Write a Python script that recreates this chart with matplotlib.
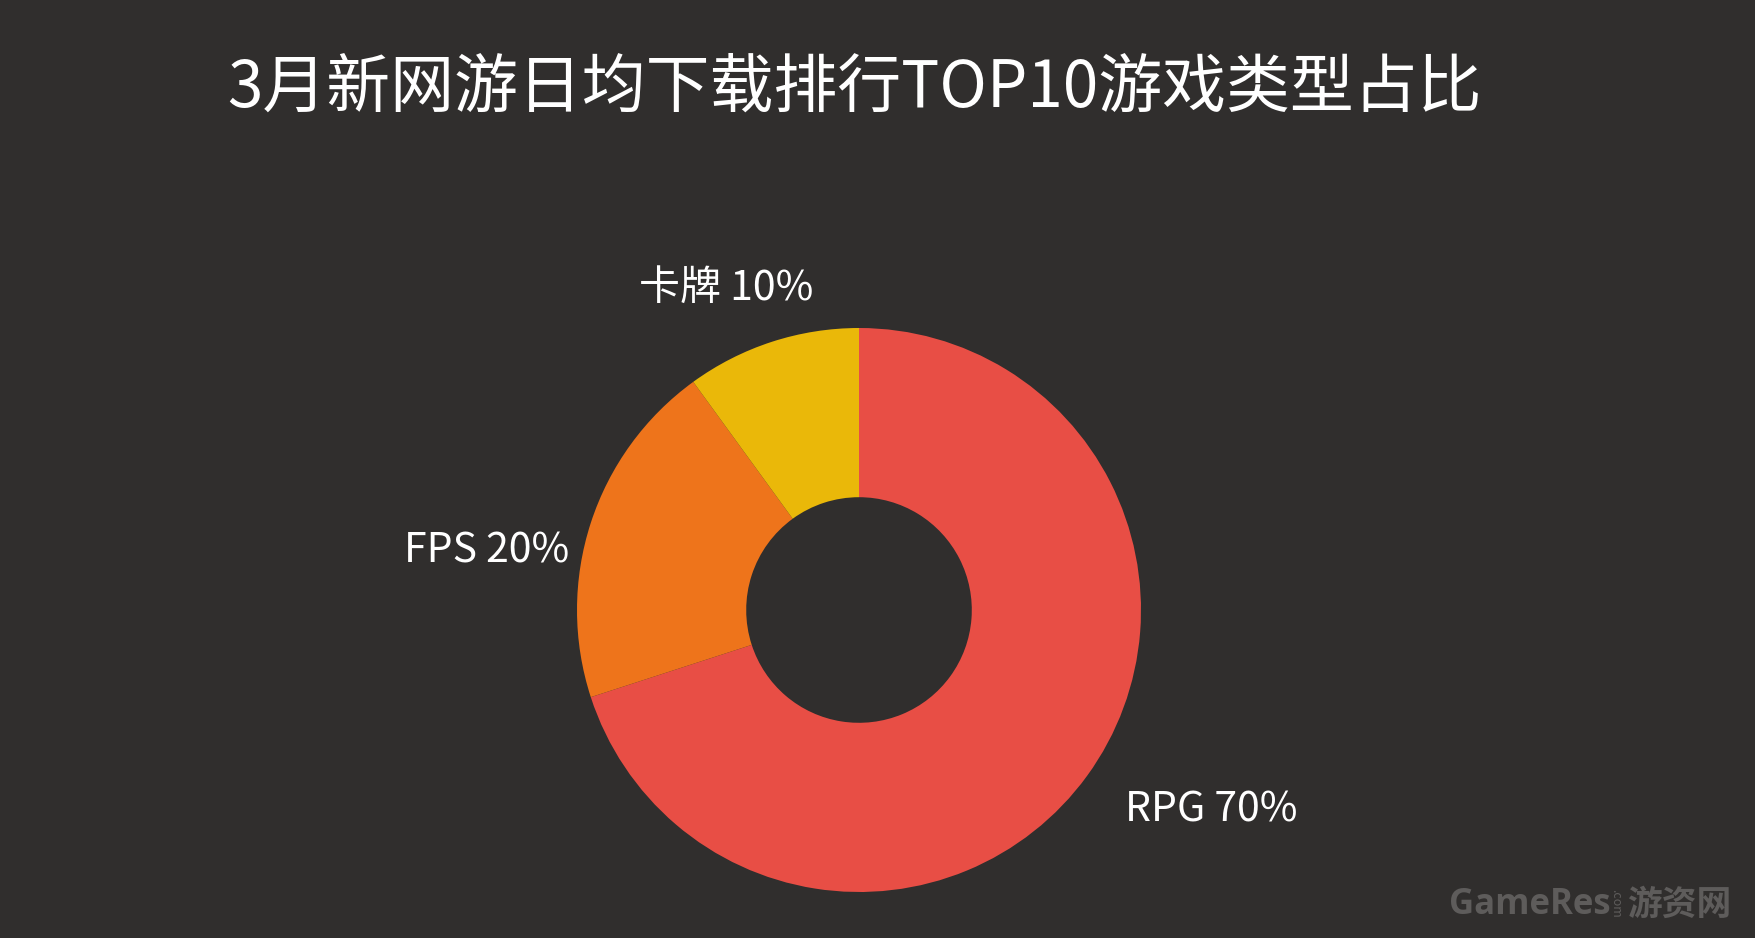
import matplotlib.pyplot as plt

plt.rcParams['font.family'] = ['Noto Sans CJK SC', 'DejaVu Sans']

title = "3月新网游日均下载排行TOP10游戏类型占比"
categories = ["RPG", "FPS", "卡牌"]
shares = [70, 20, 10]
colors = ["#E84E45", "#EE741B", "#EAB809"]
bg = "#302E2D"

W, H = 1755, 938
cx, cy, r = 859, 610, 282   # donut centre / radius in pixels (from top)

fig = plt.figure(figsize=(W / 100, H / 100), dpi=100, facecolor=bg)
ax = fig.add_axes([(cx - r) / W, (H - cy - r) / H, 2 * r / W, 2 * r / H])
ax.set_facecolor(bg)

wedges, _ = ax.pie(shares, colors=colors, startangle=90, counterclock=False,
                   radius=1, wedgeprops=dict(width=0.6, edgecolor='none'))
ax.set_xlim(-1, 1)
ax.set_ylim(-1, 1)
ax.set_aspect('equal')
ax.axis('off')

# label positions in axis data units (relative to donut centre)
label_pos = [(1.25, -0.71), (-1.32, 0.21), (-0.47, 1.14)]
for cat, val, (x, y) in zip(categories, shares, label_pos):
    ax.text(x, y, f"{cat} {val}%", color='white', fontsize=29.5,
            ha='center', va='center', clip_on=False)

fig.text(854 / W, 1 - 88 / H, title, color='white', fontsize=46,
         ha='center', va='center')

# watermark
wm = '#5E5C5B'
fig.text(1449 / W, 1 - 905 / H, "GameRes", color=wm, fontsize=25,
         fontweight='bold', family=['Open Sans', 'DejaVu Sans'],
         ha='left', va='center')
fig.text(1616 / W, 1 - 903 / H, ".com", color=wm, fontsize=9,
         rotation=-90, ha='center', va='center')
fig.text(1627 / W, 1 - 904 / H, "游资网", color=wm, fontsize=25,
         fontweight='bold', ha='left', va='center')

fig.savefig("out.png", dpi=100, facecolor=bg)
